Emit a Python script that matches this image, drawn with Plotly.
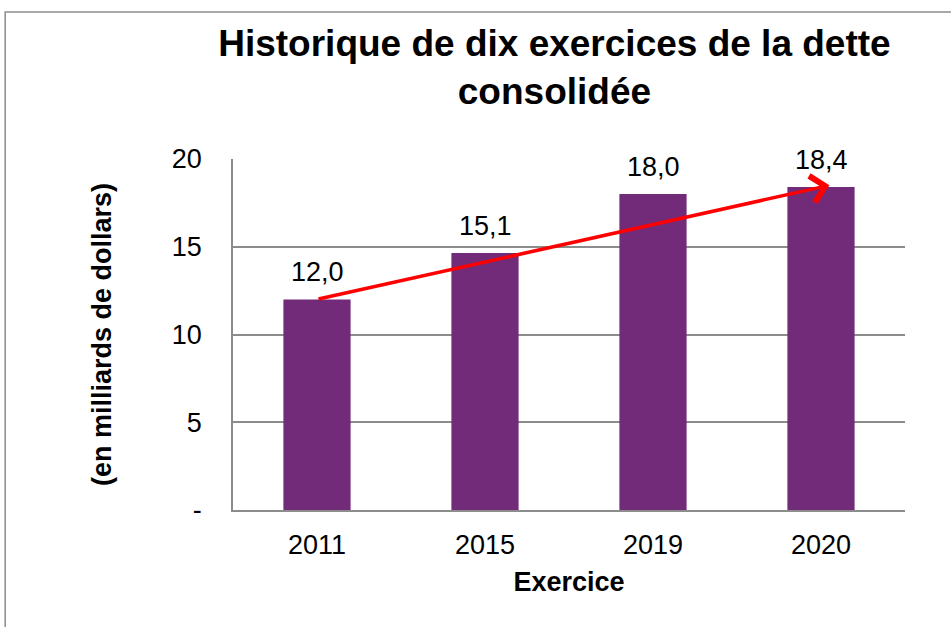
import plotly.graph_objects as go

categories = ["2011", "2015", "2019", "2020"]
values = [12.0, 14.65, 18.0, 18.4]
value_labels = ["12,0", "15,1", "18,0", "18,4"]
y_ticks = [0, 5, 10, 15, 20]
y_tick_labels = ["-", "5", "10", "15", "20"]

FONT = "Liberation Sans, Arial, sans-serif"
BAR_COLOR = "#722B78"
GRID = "#8C8C8C"

positions = list(range(len(categories)))

fig = go.Figure()
fig.add_trace(go.Bar(
    x=positions, y=values, width=0.4,
    marker=dict(color=BAR_COLOR, line=dict(width=0)),
    hoverinfo="skip",
))

for p, v, lab in zip(positions, values, value_labels):
    fig.add_annotation(x=p, y=v, text=lab, showarrow=False, yanchor="bottom",
                       yshift=10, font=dict(family=FONT, size=27, color="black"))

# trend arrow from first to last bar
fig.add_annotation(
    x=positions[-1] + 0.05, y=values[-1] + 0.1,
    ax=positions[0], ay=values[0],
    xref="x", yref="y", axref="x", ayref="y",
    showarrow=True, arrowhead=4, arrowsize=1.5, arrowwidth=3.5,
    arrowcolor="#FF0000", text="", standoff=0, startstandoff=0,
)

# outer chart border
fig.add_shape(type="rect", xref="paper", yref="paper",
              x0=-0.339, x1=1.2, y0=-0.5, y1=1.419,
              line=dict(color="#8C8C8C", width=1.5), fillcolor="rgba(0,0,0,0)",
              layer="below")

fig.update_layout(
    width=951, height=627,
    margin=dict(l=233, r=46, t=159, b=117),
    paper_bgcolor="white", plot_bgcolor="white",
    showlegend=False,
    title=dict(text="<b>Historique de dix exercices de la dette<br>consolidée</b>",
               x=0.583, xanchor="center", y=0.911, yanchor="top",
               font=dict(family=FONT, size=37, color="black")),
    font=dict(family=FONT, color="black"),
)
fig.update_xaxes(
    range=[-0.5, len(categories) - 0.5], tickvals=positions, ticktext=categories,
    showgrid=False, showline=True, linecolor=GRID, linewidth=2, zeroline=False,
    ticks="", ticklabelstandoff=10, tickfont=dict(size=27, color="black"),
    title=dict(text="<b>Exercice</b>", font=dict(size=27, color="black"), standoff=13),
)
fig.update_yaxes(
    range=[0, 20], tickvals=y_ticks, ticktext=y_tick_labels,
    showgrid=True, gridcolor=GRID, gridwidth=1.5,
    showline=True, linecolor=GRID, linewidth=1.5, zeroline=False,
    ticks="", ticklabelstandoff=24, tickfont=dict(size=27, color="black"),
    title=dict(text="<b>(en milliards de dollars)</b>", font=dict(size=27, color="black"), standoff=52),
)

fig.write_html("out.html", config={"displayModeBar": False},
               post_script="document.body.style.margin='0';")
